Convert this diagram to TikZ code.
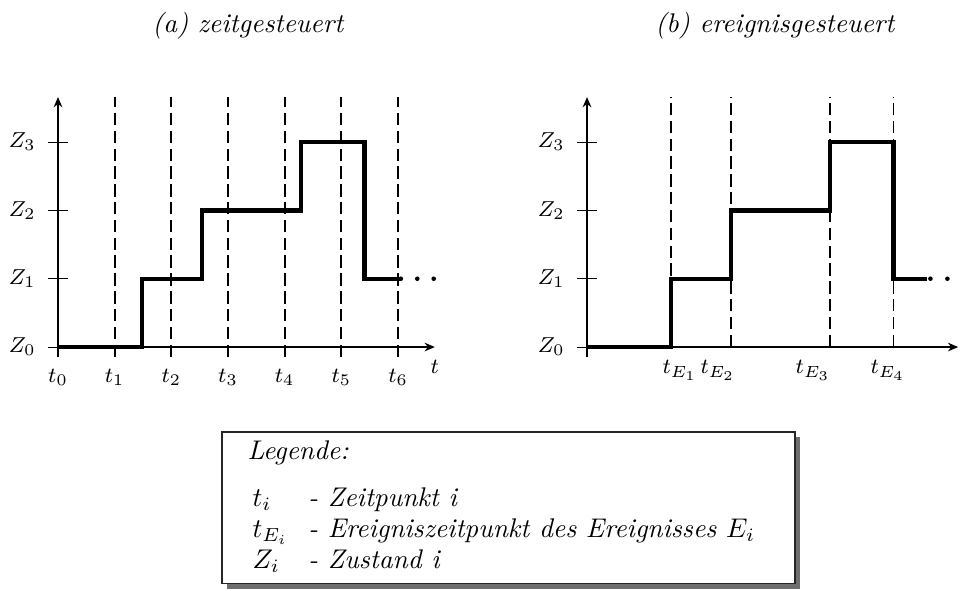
\documentclass[tikz,border=0pt]{standalone}
\usepackage{tikz}
\usetikzlibrary{arrows.meta,shadows}
\definecolor{schatten}{HTML}{6E6E6E}
\tikzset{
  achse/.style={-{Stealth[length=3.8pt,width=3.2pt]}, semithick},
  strich/.style={thin},
  raster/.style={line width=0.65pt, dash pattern=on 4.6pt off 2pt},
  verlauf/.style={line width=1.6pt},
  lbl/.style={font=\footnotesize, inner sep=1pt},
  titel/.style={font=\itshape, anchor=base},
  legende/.style={draw=black!85, fill=white, line width=0.5pt,
    drop shadow={shadow xshift=2pt, shadow yshift=-2pt, fill=schatten, opacity=1}},
  eintrag/.style={font=\itshape, anchor=base west, inner sep=0pt},
}
\newcommand{\zachsen}[3]{% #1 = x-offset, #2 = length of t-axis, #3 = prefix
  \draw[achse] (#1,-0.15) -- (#1,3.66);
  \draw[achse] (#1,0) -- (#1+#2,0);
  \foreach \j in {0,...,3} {%
    \draw[strich] (#1-0.176,\j) -- (#1+0.176,\j);
    \node[lbl] (#3z\j) at (#1-0.63,\j) {$Z_{\j}$};
  }}
\newcommand{\zverlauf}[2]{% #1 = x-offset, #2 = end of last step
  \draw[verlauf] (#1,0) -| (#1+1.48,1) -| (#1+2.54,2) -| (#1+4.29,3)
    -| (#1+5.41,1) -- (#1+#2,1);}
\newcommand{\punkte}[2]{\foreach \x in {#2} \fill (#1+\x,1) circle (0.85pt);}

\begin{document}
\begin{tikzpicture}[x=0.7375cm, y=0.889cm]
  \useasboundingbox (-1.0235,-3.558) rectangle (15.917,5.0805);
  % (a) zeitgesteuert
  \node[titel] (ta) at (3.35,4.61) {(a) zeitgesteuert};
  \foreach \k in {1,...,6}
    \draw[raster] (\k,-0.146) -- (\k,3.66);
  \zachsen{0}{6.65}{a}
  \foreach \k in {0,...,6}
    \node[lbl] (t\k) at (\k,-0.45) {$t_{\k}$};
  \node[lbl] (tachse) at (6.65,-0.29) {$t$};
  \zverlauf{0}{6.03}
  \punkte{0}{6.05,6.34,6.63}
  % (b) ereignisgesteuert
  \node[titel] (tb) at (12.65,4.61) {(b) ereignisgesteuert};
  \foreach \e/\lx [count=\n] in {1.48/1.64, 2.54/2.31, 4.29/3.99, 5.41/5.31} {
    \draw[raster] (9.335+\e,0) -- (9.335+\e,3.66);
    \node[lbl] (te\n) at (9.335+\lx,-0.34) {$t_{E_{\n}}$};
  }
  \zachsen{9.335}{6.55}{b}
  \zverlauf{9.335}{6.0}
  \punkte{9.335}{6.06,6.36}
  % Legende
  \draw[legende] (2.894,-1.245) rectangle (13.005,-3.46);
  \node[eintrag] (leg) at (3.335,-1.64) {Legende:};
  \foreach \y/\sym/\txt [count=\n] in {-2.34/{$t_i$}/{Zeitpunkt i},
      -2.79/{$t_{E_i}$}/{Ereigniszeitpunkt des Ereignisses $E_i$},
      -3.24/{$Z_i$}/{Zustand i}} {
    \node[eintrag] (sym\n) at (3.423,\y) {\sym};
    \node[eintrag] (txt\n) at (4.41,\y) {- \txt};
  }
\end{tikzpicture}
\end{document}
